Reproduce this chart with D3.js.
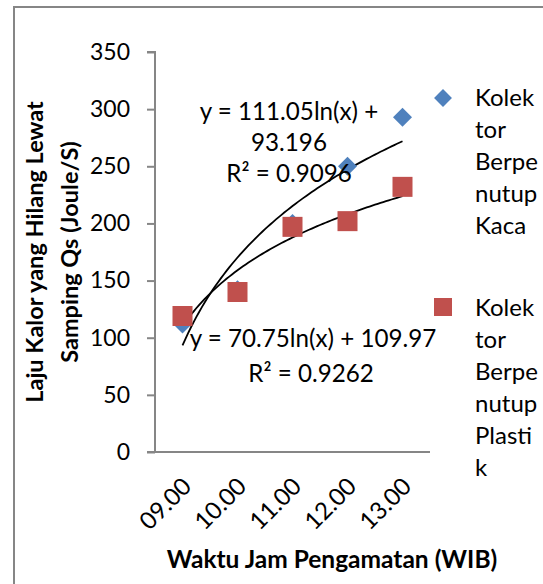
<!DOCTYPE html>
<html>
<head>
<meta charset="utf-8">
<script src="https://cdn.jsdelivr.net/npm/d3@7"></script>
<style>
  html, body { margin: 0; padding: 0; background: #fff; }
  svg { display: block; font-family: Lato, "Open Sans", sans-serif; }
</style>
</head>
<body>
<svg id="chart" width="543" height="584"></svg>
<script>
// Observation times (category axis)
const categories = ["09.00", "10.00", "11.00", "12.00", "13.00"];
// Heat loss through the side, Qs (Joule/S)
const kacaValues = [112, 142, 200, 250, 293];
const plastikValues = [119, 140, 197, 202, 232];
// Logarithmic trendline coefficients: y = a ln(x) + b
const kacaFit = { a: 111.05, b: 93.196, r2: 0.9096 };
const plastikFit = { a: 70.75, b: 109.97, r2: 0.9262 };
const yTicks = [0, 50, 100, 150, 200, 250, 300, 350];
const seriesNames = ["Kolektor Berpenutup Kaca", "Kolektor Berpenutup Plastik"];

const svg = d3.select("#chart");
const axisColor = "#868686";
const font = "Lato";

// Outer chart frame
svg.append("rect")
  .attr("x", 14).attr("y", 7)
  .attr("width", 540).attr("height", 600)
  .attr("fill", "none").attr("stroke", axisColor).attr("stroke-width", 2);

const plot = { left: 155, right: 430, top: 52, bottom: 452 };

const x = d3.scaleLinear().domain([0.5, categories.length + 0.5]).range([plot.left, plot.right]);
const y = d3.scaleLinear().domain([0, 350]).range([plot.bottom, plot.top]);

// Y axis
const yAxis = d3.axisLeft(y).tickValues(yTicks).tickSize(8).tickPadding(17).tickFormat(d3.format("d"));
const gy = svg.append("g").attr("transform", `translate(${plot.left},0)`).call(yAxis);
gy.select(".domain").attr("stroke", axisColor).attr("stroke-width", 2).attr("d", `M-8,${plot.top}H0V${plot.bottom}`);
gy.selectAll(".tick line").attr("stroke", axisColor).attr("stroke-width", 2);
gy.selectAll(".tick text").attr("font-size", 23).attr("fill", "#000").attr("font-family", font);

// X axis (category)
const gx = svg.append("g").attr("transform", `translate(0,${plot.bottom})`)
  .call(d3.axisBottom(x).tickValues(d3.range(1, categories.length + 1)).tickSize(0).tickFormat(i => categories[i - 1]));
gx.select(".domain").attr("stroke", axisColor).attr("stroke-width", 2).attr("d", `M${plot.left - 8},0H${plot.right}`);
gx.selectAll(".tick text")
  .attr("font-size", 24).attr("fill", "#000").attr("font-family", font)
  .attr("text-anchor", "end")
  .attr("transform", "translate(4,30) rotate(-45)")
  .attr("dy", "0.35em").attr("y", 0).attr("x", 0);

// Axis titles
svg.append("text")
  .attr("x", 332).attr("y", 568)
  .attr("text-anchor", "middle").attr("font-weight", "bold").attr("font-size", 24.5)
  .text("Waktu Jam Pengamatan (WIB)");

const yTitle = svg.append("text")
  .attr("transform", "translate(43,252) rotate(-90)")
  .attr("text-anchor", "middle").attr("font-weight", "bold").attr("font-size", 23.5);
yTitle.append("tspan").attr("x", 0).attr("y", 0).text("Laju Kalor yang Hilang Lewat");
yTitle.append("tspan").attr("x", 0).attr("y", 35).text("Samping Qs (Joule/S)");

// Trendlines
const fitLine = fit => d3.line()
  .x(t => x(t)).y(t => y(fit.a * Math.log(t) + fit.b))(d3.range(1, 5.0001, 0.05));

[kacaFit, plastikFit].forEach(fit => {
  svg.append("path").attr("d", fitLine(fit))
    .attr("fill", "none").attr("stroke", "#000").attr("stroke-width", 1.8);
});

// Markers: blue diamonds (Kaca), red squares (Plastik)
const diamond = d3.symbol().type(d3.symbolSquare).size(180);
svg.append("g").selectAll("path").data(kacaValues).join("path")
  .attr("d", diamond)
  .attr("transform", (d, i) => `translate(${x(i + 1)},${y(d)}) rotate(45)`)
  .attr("fill", "#4F81BD");

svg.append("g").selectAll("rect").data(plastikValues).join("rect")
  .attr("x", (d, i) => x(i + 1) - 10).attr("y", d => y(d) - 10)
  .attr("width", 20).attr("height", 20)
  .attr("fill", "#C0504D");

// Trendline equation labels
const fmtEq = f => `y = ${f.a}ln(x) + ${f.b}`;
const eq1 = svg.append("text").attr("text-anchor", "middle").attr("font-size", 24.2);
eq1.append("tspan").attr("x", 289).attr("y", 120).text(`y = ${kacaFit.a}ln(x) +`);
eq1.append("tspan").attr("x", 289).attr("y", 151).text(`${kacaFit.b}`);
eq1.append("tspan").attr("x", 289).attr("y", 182).text(`R² = ${kacaFit.r2}`);

const eq2 = svg.append("text").attr("text-anchor", "middle").attr("font-size", 24.2);
eq2.append("tspan").attr("x", 313).attr("y", 347).text(fmtEq(plastikFit));
eq2.append("tspan").attr("x", 311).attr("y", 382).text(`R² = ${plastikFit.r2}`);

// Legend with wrapped series names
const legendLines = [
  ["Kolek", "tor", "Berpe", "nutup", "Kaca"],
  ["Kolek", "tor", "Berpe", "nutup", "Plasti", "k"]
];
const legendTop = [106, 316];
legendLines.forEach((lines, si) => {
  const t = svg.append("text").attr("font-size", 24);
  lines.forEach((ln, li) => {
    t.append("tspan").attr("x", 475).attr("y", legendTop[si] + li * 32).text(ln);
  });
});
svg.append("path").attr("d", d3.symbol().type(d3.symbolSquare).size(160))
  .attr("transform", `translate(443,98) rotate(45)`).attr("fill", "#4F81BD");
svg.append("rect").attr("x", 434).attr("y", 298).attr("width", 18).attr("height", 18).attr("fill", "#C0504D");
</script>
</body>
</html>
